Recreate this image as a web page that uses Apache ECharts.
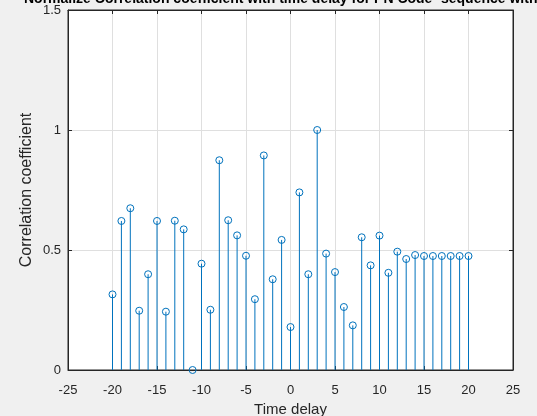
<!DOCTYPE html>
<html>
<head>
<meta charset="utf-8">
<script src="https://cdn.jsdelivr.net/npm/echarts@6/dist/echarts.min.js"></script>
<style>
  html, body { margin: 0; padding: 0; background: #f0f0f0; }
  #chart { width: 537px; height: 416px; }
</style>
</head>
<body>
<div id="chart"></div>
<script>
// 时间延迟
var delays = [-20, -19, -18, -17, -16, -15, -14, -13, -12, -11, -10, -9, -8, -7, -6, -5, -4, -3, -2, -1,
    0, 1, 2, 3, 4, 5, 6, 7, 8, 9, 10, 11, 12, 13, 14, 15, 16, 17, 18, 19, 20];
// 相关系数
var coeffs = [0.315, 0.621, 0.674, 0.247, 0.399, 0.621, 0.243, 0.622, 0.586, 0, 0.443, 0.251, 0.874, 0.624,
    0.561, 0.476, 0.295, 0.894, 0.378, 0.542, 0.179, 0.74, 0.399, 1.0, 0.485, 0.408, 0.2625, 0.186,
    0.553, 0.436, 0.56, 0.405, 0.493, 0.4625, 0.479, 0.475, 0.475, 0.475, 0.475, 0.475, 0.475];
var xTicks = [-25, 25, 5];   // min, max, step
var yTicks = [0, 1.5, 0.5];

var points = delays.map(function(d, i) { return [d, coeffs[i]]; });

var txt = '#262626';
var font = 'Arial, "Liberation Sans", Helvetica, sans-serif';

var myChart = echarts.init(document.getElementById('chart'));

var axisBase = {
    type: 'value',
    axisLine: { show: true, onZero: false, lineStyle: { color: txt, width: 1 } },
    axisTick: { show: true, inside: true, length: 4, lineStyle: { color: txt } },
    axisLabel: { color: txt, fontSize: 13, fontFamily: font },
    splitLine: { show: true, lineStyle: { color: '#dfdfdf' } }
};

// 上/右边框的刻度
function mirrorAxis(pos, t) {
    return {
        type: 'value', min: t[0], max: t[1], interval: t[2],
        position: pos,
        axisLine: { show: true, onZero: false, lineStyle: { color: txt } },
        axisTick: { show: true, inside: true, length: 4, lineStyle: { color: txt } },
        axisLabel: { show: false },
        splitLine: { show: false }
    };
}

var option = {
    backgroundColor: '#f0f0f0',
    animation: false,
    title: {
        text: 'Normalize Correlation coefficient with time delay for PN Code- sequence with Changed delay',
        left: 19,
        top: -13,
        textStyle: { fontSize: 14, fontWeight: 'bold', color: '#000', fontFamily: font }
    },
    grid: {
        left: 68, right: 24, top: 10, bottom: 46,
        outerBoundsMode: 'none',
        containLabel: false,
        show: true,
        backgroundColor: '#ffffff',
        borderColor: txt,
        borderWidth: 1
    },
    xAxis: [
        echarts.util.merge({
            min: xTicks[0], max: xTicks[1], interval: xTicks[2],
            position: 'bottom',
            name: 'Time delay',
            nameLocation: 'middle',
            nameGap: 31,
            nameTextStyle: { color: txt, fontSize: 15, fontFamily: font },
            axisLabel: { margin: 14 }
        }, axisBase, false),
        mirrorAxis('top', xTicks)
    ],
    yAxis: [
        echarts.util.merge({
            min: yTicks[0], max: yTicks[1], interval: yTicks[2],
            position: 'left',
            name: 'Correlation coefficient',
            nameLocation: 'middle',
            nameGap: 33,
            nameMoveOverlap: false,
            nameTextStyle: { color: txt, fontSize: 16, fontFamily: font },
            axisLabel: { margin: 7 }
        }, axisBase, false),
        mirrorAxis('right', yTicks)
    ],
    series: [{
        // 茎叶图: 竖线 + 空心圆
        type: 'custom',
        xAxisIndex: 0,
        yAxisIndex: 0,
        clip: false,
        data: points,
        renderItem: function(params, api) {
            var base = api.coord([api.value(0), 0]);
            var top = api.coord([api.value(0), api.value(1)]);
            return {
                type: 'group',
                children: [{
                    type: 'line',
                    shape: { x1: base[0], y1: base[1], x2: top[0], y2: top[1] },
                    style: { stroke: '#0072bd', lineWidth: 1 }
                }, {
                    type: 'circle',
                    shape: { cx: top[0], cy: top[1], r: 3.5 },
                    style: { stroke: '#0072bd', fill: 'none', lineWidth: 1 }
                }]
            };
        }
    }]
};
myChart.setOption(option);
</script>
</body>
</html>
